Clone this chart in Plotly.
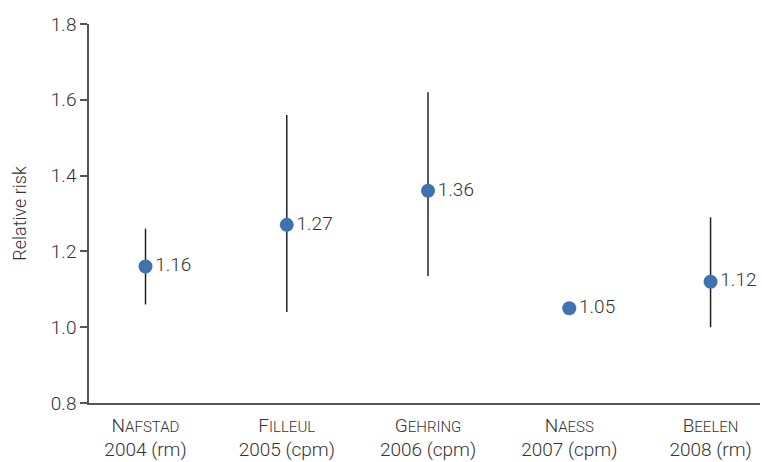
import plotly.graph_objects as go

# Study names (small-caps style) and cohort info
study_first = ["N", "F", "G", "N", "B"]
study_rest = ["AFSTAD", "ILLEUL", "EHRING", "AESS", "EELEN"]
study_year = ["2004 (rm)", "2005 (cpm)", "2006 (cpm)", "2007 (cpm)", "2008 (rm)"]

# Relative risk estimates with confidence limits
rr = [1.16, 1.27, 1.36, 1.05, 1.12]
ci_upper = [1.26, 1.56, 1.62, 1.05, 1.29]
ci_lower = [1.06, 1.04, 1.135, 1.05, 1.00]

y_ticks = [0.8, 1.0, 1.2, 1.4, 1.6, 1.8]

FONT = "Roboto"
TXT = "#333333"
FS = 19

xpos = list(range(len(rr)))
tick_text = [
    f"{a}<span style='font-size:15px'>{b}</span><br>{c}"
    for a, b, c in zip(study_first, study_rest, study_year)
]

fig = go.Figure(
    go.Scatter(
        x=xpos,
        y=rr,
        mode="markers+text",
        marker=dict(size=14, color="#3f73b0"),
        text=[f"{v:.2f}" for v in rr],
        textposition="middle right",
        textfont=dict(family=FONT, size=FS, color=TXT, weight=300),
        error_y=dict(
            type="data",
            symmetric=False,
            array=[u - v for u, v in zip(ci_upper, rr)],
            arrayminus=[v - l for v, l in zip(rr, ci_lower)],
            color="#222222",
            thickness=1.5,
            width=0,
        ),
        cliponaxis=False,
        showlegend=False,
    )
)

fig.update_layout(
    width=762,
    height=462,
    margin=dict(l=89, r=2, t=24, b=59),
    paper_bgcolor="white",
    plot_bgcolor="white",
    font=dict(family=FONT, size=FS, color=TXT, weight=300),
    xaxis=dict(
        range=[-0.4, 4.35],
        tickvals=xpos,
        ticktext=tick_text,
        showgrid=False,
        zeroline=False,
        showline=True,
        linecolor="#555555",
        linewidth=1.5,
        ticks="outside",
        ticklen=4,
        tickcolor="rgba(0,0,0,0)",
        tickfont=dict(family=FONT, size=FS, color=TXT, weight=300),
    ),
    yaxis=dict(
        range=[0.8, 1.8],
        tickvals=y_ticks,
        tickformat=".1f",
        showgrid=False,
        zeroline=False,
        showline=True,
        linecolor="#555555",
        linewidth=1.5,
        ticks="outside",
        ticklen=7,
        tickwidth=1.5,
        tickcolor="#555555",
        tickfont=dict(family=FONT, size=FS, color=TXT, weight=300),
        title=dict(text="Relative risk", font=dict(family=FONT, size=18, color=TXT, weight=300), standoff=20),
    ),
)

fig.write_html("out.html")
